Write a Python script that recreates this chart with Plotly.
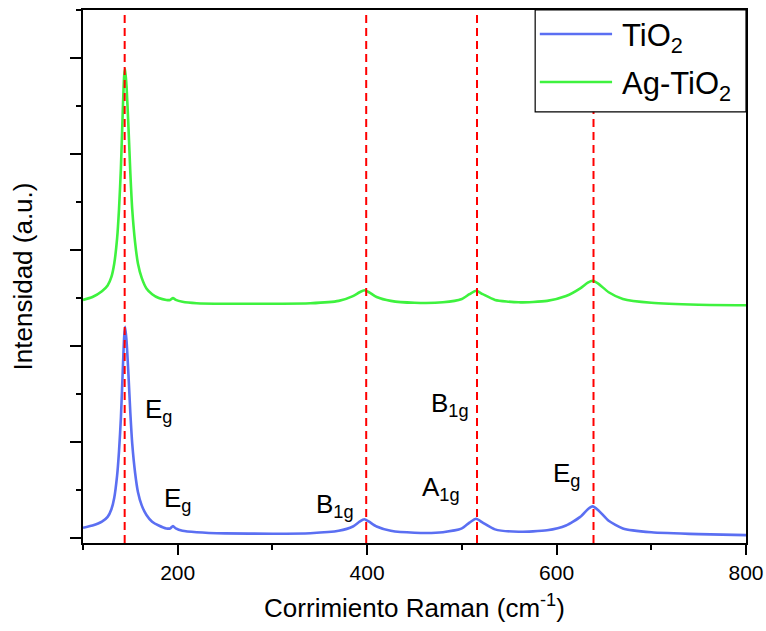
import plotly.graph_objects as go

# Raman shift (cm^-1) sample points
shift = [100, 110, 120, 126, 130, 133, 136, 138, 140, 142, 143.5, 144.5, 146, 148, 150, 152,
         155, 158, 162, 167, 173, 180, 188, 192, 195, 198, 205, 220, 250, 300, 340, 370, 385,
         392, 397, 402, 410, 425, 450, 480, 500, 508, 515, 522, 535, 560, 590, 610, 625, 633,
         638, 644, 655, 670, 700, 750, 800]

tio2 = [0.107, 0.13, 0.17, 0.22, 0.30, 0.42, 0.65, 0.90, 1.25, 1.75, 2.10, 2.20, 2.05, 1.70, 1.30, 0.98,
        0.68, 0.48, 0.34, 0.24, 0.17, 0.13, 0.10, 0.10, 0.125, 0.10, 0.075, 0.06, 0.048, 0.045, 0.05, 0.075, 0.12,
        0.17, 0.195, 0.17, 0.12, 0.075, 0.055, 0.06, 0.10, 0.16, 0.20, 0.16, 0.09, 0.065, 0.08, 0.13, 0.22, 0.30,
        0.33, 0.29, 0.18, 0.10, 0.06, 0.04, 0.03]

ag_tio2 = [2.48, 2.51, 2.57, 2.63, 2.72, 2.86, 3.12, 3.42, 3.85, 4.45, 4.82, 4.885, 4.70, 4.28, 3.80, 3.42,
           3.08, 2.86, 2.71, 2.60, 2.54, 2.50, 2.48, 2.48, 2.50, 2.48, 2.46, 2.445, 2.44, 2.44, 2.445, 2.47, 2.52,
           2.56, 2.58, 2.56, 2.51, 2.47, 2.45, 2.455, 2.49, 2.54, 2.575, 2.54, 2.48, 2.455, 2.47, 2.52, 2.60, 2.66,
           2.68, 2.65, 2.56, 2.49, 2.45, 2.43, 2.425]

mode_positions = [144, 399, 516, 639]

label_text = ["E<sub>g</sub>", "E<sub>g</sub>", "B<sub>1g</sub>", "B<sub>1g</sub>", "A<sub>1g</sub>", "E<sub>g</sub>"]
label_x = [180, 200, 366, 487, 478, 610]
label_y = [1.33, 0.40, 0.34, 1.39, 0.52, 0.66]

series_names = ["TiO<sub>2</sub>", "Ag-TiO<sub>2</sub>"]
series_colors = ["#5b6ff2", "#3ef23e"]

FONT = "Liberation Sans, Arial, sans-serif"

fig = go.Figure()
fig.add_trace(go.Scatter(x=shift, y=tio2, mode="lines", name=series_names[0],
                         line=dict(color=series_colors[0], width=2.6, shape="spline", smoothing=0.6),
                         showlegend=False))
fig.add_trace(go.Scatter(x=shift, y=ag_tio2, mode="lines", name=series_names[1],
                         line=dict(color=series_colors[1], width=2.6, shape="spline", smoothing=0.6),
                         showlegend=False))

for xm in mode_positions:
    fig.add_shape(type="line", x0=xm, x1=xm, xref="x", y0=0, y1=1, yref="paper",
                  line=dict(color="#ff0000", width=2, dash="8px,5px"), layer="above")

for t, xx, yy in zip(label_text, label_x, label_y):
    fig.add_annotation(x=xx, y=yy, xref="x", yref="y", text=t, showarrow=False,
                       font=dict(family=FONT, size=26, color="black"))

# legend box (paper coordinates)
lx0, lx1, ly0, ly1 = 0.682, 1.0, 0.809, 1.0
fig.add_shape(type="rect", xref="paper", yref="paper", x0=lx0, x1=lx1, y0=ly0, y1=ly1,
              line=dict(color="black", width=1.2), fillcolor="white", layer="above")
for i, (nm, col) in enumerate(zip(series_names, series_colors)):
    yy = 0.955 - i * 0.09
    fig.add_shape(type="line", xref="paper", yref="paper", x0=0.689, x1=0.798, y0=yy, y1=yy,
                  line=dict(color=col, width=2.6), layer="above")
    fig.add_annotation(xref="paper", yref="paper", x=0.81, y=yy - 0.008, text=nm, showarrow=False,
                       xanchor="left", yanchor="middle",
                       font=dict(family=FONT, size=31, color="black"))

fig.update_layout(
    width=766, height=631,
    margin=dict(l=83, r=20, t=10, b=88),
    paper_bgcolor="white", plot_bgcolor="white",
    font=dict(family=FONT, size=21, color="black"),
)
fig.update_xaxes(range=[100, 800], tick0=200, dtick=200, ticks="outside", ticklen=10, tickwidth=1.5,
                 tickcolor="black", showline=True, linecolor="black", linewidth=1.5, mirror=True,
                 showgrid=False, zeroline=False, tickfont=dict(size=21), automargin=False,
                 minor=dict(tick0=100, dtick=100, ticks="outside", ticklen=5, tickwidth=1.5, tickcolor="black"),
                 title=dict(text="Corrimiento Raman (cm<sup>-1</sup>)", font=dict(size=26), standoff=16))
fig.update_yaxes(range=[-0.052, 5.5], tick0=0, dtick=1, ticks="outside", ticklen=11, tickwidth=1.5,
                 tickcolor="black", showticklabels=False, showline=True, linecolor="black", linewidth=1.5,
                 mirror=True, showgrid=False, zeroline=False, automargin=False,
                 minor=dict(tick0=0, dtick=0.5, ticks="outside", ticklen=5.5, tickwidth=1.5, tickcolor="black"),
                 title=dict(text="Intensidad (a.u.)", font=dict(size=26), standoff=30))

fig.write_html("out.html")
